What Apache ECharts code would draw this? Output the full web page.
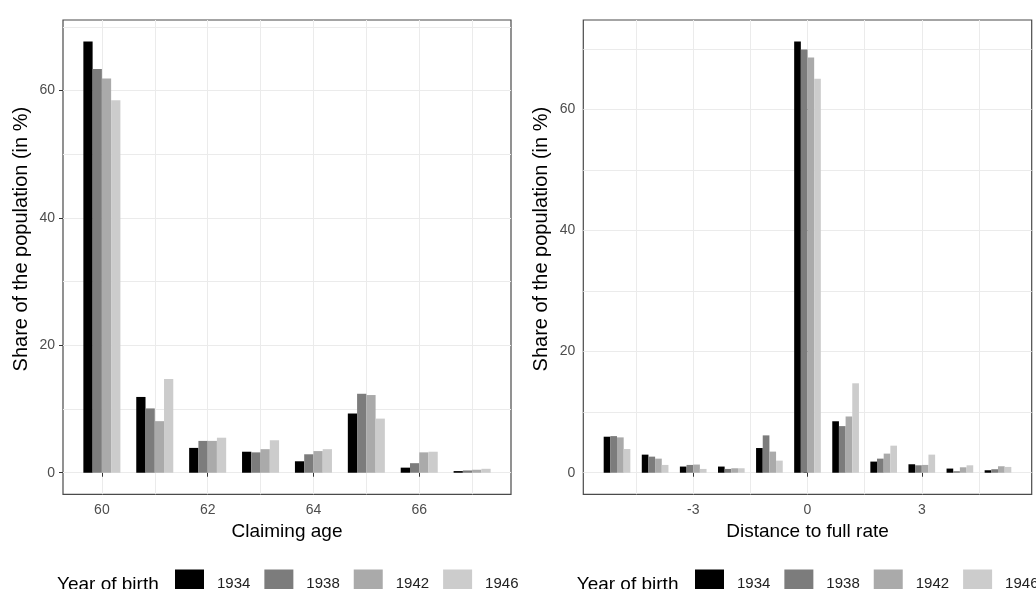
<!DOCTYPE html>
<html>
<head>
<meta charset="utf-8">
<script src="https://cdn.jsdelivr.net/npm/echarts@6/dist/echarts.min.js"></script>
<style>
  html, body { margin: 0; padding: 0; background: #ffffff; overflow: hidden; }
  #chart { width: 1036px; height: 589px; }
</style>
</head>
<body>
<div id="chart"></div>
<script>
// Cohorts shown in both panels and their grey fills
const birthYears = ['1934', '1938', '1942', '1946'];
const birthColors = ['#000000', '#7c7c7c', '#aaaaaa', '#cccccc'];

// Left panel: share of each cohort claiming at a given age (in %)
const claimingAges = [60, 61, 62, 63, 64, 65, 66, 67];
const age1934 = [67.7, 11.9, 3.9, 3.3, 1.8, 9.3, 0.8, 0.26];
const age1938 = [63.4, 10.1, 5.0, 3.2, 2.9, 12.4, 1.5, 0.36];
const age1942 = [61.9, 8.1, 5.0, 3.7, 3.4, 12.2, 3.2, 0.47];
const age1946 = [58.5, 14.7, 5.5, 5.1, 3.7, 8.5, 3.3, 0.62];

// Right panel: share of each cohort by distance to the full-rate age (in %)
const distances = [-5, -4, -3, -2, -1, 0, 1, 2, 3, 4, 5];
const dist1934 = [5.95, 2.99, 1.02, 1.02, 4.08, 71.2, 8.5, 1.84, 1.4, 0.69, 0.41];
const dist1938 = [6.05, 2.66, 1.29, 0.63, 6.17, 69.9, 7.7, 2.33, 1.23, 0.25, 0.58];
const dist1942 = [5.84, 2.33, 1.35, 0.74, 3.49, 68.56, 9.29, 3.16, 1.29, 0.9, 1.07];
const dist1946 = [3.92, 1.29, 0.63, 0.74, 2.0, 65.05, 14.77, 4.47, 2.99, 1.23, 0.96];

// Tick labels and grid line positions
const ageTicks = [60, 62, 64, 66];
const ageGridLines = [60, 61, 62, 63, 64, 65, 66, 67];
const distTicks = [-3, 0, 3];
const distGridLines = [-4.5, -3, -1.5, 0, 1.5, 3, 4.5];
const shareTicks = [0, 20, 40, 60];
const shareGridLines = [0, 10, 20, 30, 40, 50, 60, 70];

const FONT = '"Liberation Sans", Arial, sans-serif';
const DODGE = 0.7;          // total width of a group of bars, in axis units
const EXPAND = 0.05;        // padding added on both sides of each scale

const panels = [
  {
    left: 63, width: 448, title: 'Claiming age',
    xs: claimingAges, series: [age1934, age1938, age1942, age1946],
    xTicks: ageTicks, xGrid: ageGridLines, legendLeft: 175, keyTitleLeft: 57
  },
  {
    left: 583.3, width: 448.4, title: 'Distance to full rate',
    xs: distances, series: [dist1934, dist1938, dist1942, dist1946],
    xTicks: distTicks, xGrid: distGridLines, legendLeft: 695, keyTitleLeft: 576.7
  }
];
const TOP = 20, HEIGHT = 474.3;

const grid = [], xAxis = [], yAxis = [], series = [], legend = [], graphic = [];

panels.forEach(function (p, i) {
  const lo = Math.min.apply(null, p.xs) - DODGE / 2;
  const hi = Math.max.apply(null, p.xs) + DODGE / 2;
  const xPad = (hi - lo) * EXPAND;
  const xMin = lo - xPad, xMax = hi + xPad;
  const yTop = Math.max.apply(null, p.series.map(function (s) { return Math.max.apply(null, s); }));
  const yMin = -yTop * EXPAND, yMax = yTop * (1 + EXPAND);
  const barPx = (DODGE / 4) * p.width / (xMax - xMin);

  grid.push({
    left: p.left, top: TOP, width: p.width, height: HEIGHT,
    show: true, borderColor: '#4a4a4a', borderWidth: 1.2, backgroundColor: '#ffffff'
  });

  // visible x axis: ticks, labels, title
  xAxis.push({
    type: 'value', gridIndex: i, min: xMin, max: xMax,
    axisLine: { show: false },
    axisTick: { show: true, customValues: p.xTicks, length: 4, lineStyle: { color: '#333333', width: 1 } },
    axisLabel: {
      customValues: p.xTicks, margin: 9, color: '#4d4d4d', fontSize: 14, fontFamily: FONT,
      formatter: function (v) { return String(v); }
    },
    splitLine: { show: false },
    name: p.title, nameLocation: 'middle', nameGap: 27,
    nameTextStyle: { color: '#000000', fontSize: 19, fontFamily: FONT }
  });
  // x grid lines
  xAxis.push({
    type: 'value', gridIndex: i, min: xMin, max: xMax,
    axisLine: { show: false },
    axisTick: { show: false, customValues: p.xGrid },
    axisLabel: { show: false },
    splitLine: { show: true, lineStyle: { color: '#ebebeb', width: 1 } }
  });

  // visible y axis
  yAxis.push({
    type: 'value', gridIndex: i, min: yMin, max: yMax,
    axisLine: { show: false },
    axisTick: { show: true, customValues: shareTicks, length: 4, lineStyle: { color: '#333333', width: 1 } },
    axisLabel: { customValues: shareTicks, margin: 8, color: '#4d4d4d', fontSize: 14, fontFamily: FONT },
    splitLine: { show: false },
    name: 'Share of the population (in %)', nameLocation: 'middle', nameGap: 32, nameRotate: 90,
    nameTextStyle: { color: '#000000', fontSize: 20, fontFamily: FONT, padding: [0, 0, 0, 36] }
  });
  // y grid lines
  yAxis.push({
    type: 'value', gridIndex: i, min: yMin, max: yMax,
    axisLine: { show: false },
    axisTick: { show: false, customValues: shareGridLines },
    axisLabel: { show: false },
    splitLine: { show: true, lineStyle: { color: '#ebebeb', width: 1 } }
  });

  birthYears.forEach(function (year, k) {
    series.push({
      name: year, type: 'bar',
      xAxisIndex: 2 * i, yAxisIndex: 2 * i,
      barWidth: barPx, barGap: '0%',
      itemStyle: { color: birthColors[k] },
      emphasis: { disabled: true },
      data: p.xs.map(function (x, j) { return [x, p.series[k][j]]; })
    });
  });

  // one row of keys per panel, allowed to run past the right edge of the page
  legend.push({
    data: birthYears, orient: 'horizontal', left: p.legendLeft, top: 569.5,
    width: 420, padding: 0, itemWidth: 29, itemHeight: 29, itemGap: 14, icon: 'rect',
    textStyle: { color: '#222222', fontSize: 15, fontFamily: FONT, padding: [0, 0, 0, 8] }
  });

  graphic.push({
    type: 'text', left: p.keyTitleLeft, top: 575,
    style: { text: 'Year of birth', fill: '#000000', font: '19px ' + FONT }
  });
});

const chart = echarts.init(document.getElementById('chart'), null, { renderer: 'canvas' });
chart.setOption({
  animation: false,
  backgroundColor: '#ffffff',
  grid: grid, xAxis: xAxis, yAxis: yAxis, series: series, legend: legend, graphic: graphic
});
</script>
</body>
</html>
